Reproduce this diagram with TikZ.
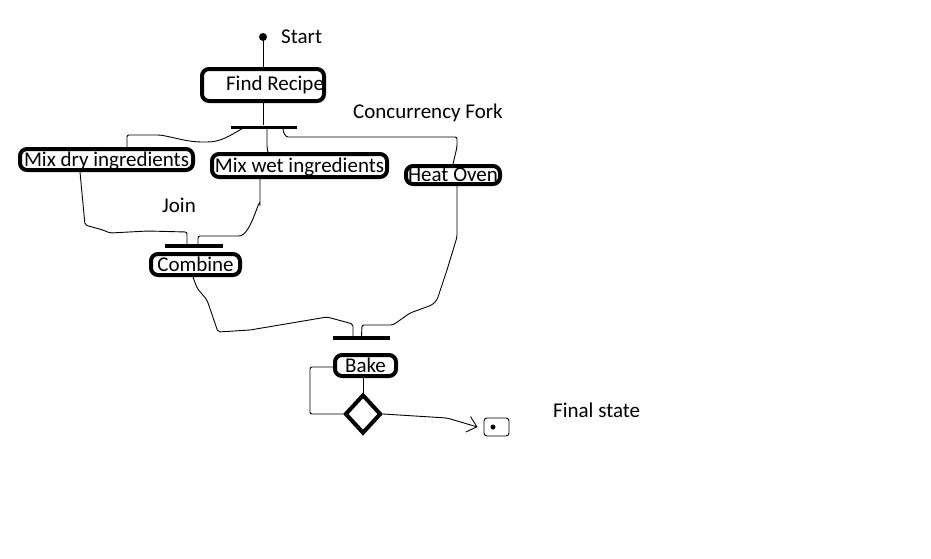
\documentclass[tikz,border=0pt]{standalone}
\usepackage{fontspec}
\setmainfont{Carlito}
\usetikzlibrary{shapes.geometric, arrows.meta}

\begin{document}
\begin{tikzpicture}[x=1pt, y=-1pt,
		actbox/.style={draw, line width=4pt, rounded corners=7pt, inner sep=0pt,
			text depth=0pt, font=\fontsize{21}{24}\selectfont},
		lbl/.style={anchor=west, inner sep=0pt, font=\fontsize{21}{24}\selectfont},
		syncbar/.style={fill=black, inner sep=0pt, minimum height=3pt},
		flow/.style={line width=0.9pt, rounded corners=2pt},
		endbox/.style={draw, line width=0.9pt, rounded corners=3pt, inner sep=0pt,
			minimum width=25pt, minimum height=18pt}]
		
		\useasboundingbox (0,0) rectangle (931,558);
		
		% start and first activity
		\node[circle, fill=black, inner sep=0pt, minimum size=8pt] (start) at (263,37) {};
		\node[lbl] (startlbl) at (281,37) {Start};
		\node[actbox, text width=122pt, align=flush right, text depth=4pt, minimum height=32pt] (recipe) at (263,85) {Find Recipe};
		
		% fork
		\node[syncbar, minimum width=66pt] (fork) at (264,127) {};
		\node[lbl] (forklbl) at (353,113) {Concurrency Fork};
		
		\node[actbox, minimum width=173pt, minimum height=21pt] (dry) at (106.5,159.5) {Mix dry ingredients};
		\node[actbox, minimum width=175pt, minimum height=23pt] (wet) at (299.5,165.5) {Mix wet ingredients};
		\node[actbox, minimum width=94pt, minimum height=18pt] (oven) at (453,175) {Heat Oven};
		
		% join
		\node[syncbar, minimum width=58pt, minimum height=4pt] (join) at (194,246) {};
		\node[lbl] (joinlbl) at (162,205) {Join};
		\node[actbox, minimum width=89pt, minimum height=21pt] (combine) at (195.5,264.5) {Combine};
		
		\node[syncbar, minimum width=57pt, minimum height=4pt] (join2) at (361.5,338) {};
		\node[actbox, minimum width=61pt, minimum height=21pt] (bake) at (365.5,365.5) {Bake};
		
		% decision and end
		\node[diamond, draw, line width=4pt, inner sep=0pt, minimum width=36pt, minimum height=39pt] (decide) at (363,414) {};
		\node[endbox] (final) at (496.5,427) {};
		\fill (493,427) circle (2.5pt);
		\node[lbl] (finallbl) at (553,410) {Final state};
		
		% connectors
		\draw[flow] (start.south) -- (recipe.north);
		\draw[flow] (recipe.south) -- (recipe.south |- fork.north);
		\draw[flow] ([xshift=-22pt]fork.south) to[out=-150, in=0] (205,142)
		to[out=180, in=-10] (160,135) -- (127,135) -- ([xshift=20.5pt]dry.north);
		\draw[flow] ([xshift=3pt]fork.south) -- (267,148) -- ([xshift=-31.5pt]wet.north);
		\draw[flow] ([xshift=19pt]fork.south) to[out=-90, in=180] (290,137)
		-- (457,137) -- (457,147) -- (oven.north);
		
		\draw[flow] ([xshift=-26.5pt]dry.south) -- (85,225) -- (103,230) -- (110,233)
		-- (148,231) -- (187,232) -- ([xshift=-7pt]join.north);
		\draw[flow] ([xshift=-39.5pt]wet.south) -- (260,207) to[out=90, in=0] (237,236)
		-- (198,236) -- ([xshift=4pt]join.north);
		
		\draw[flow] ([xshift=-2.5pt]combine.south) -- (197,288) -- (207,300) -- (218,332)
		-- (250,330) -- (327,317) -- (353,324) -- ([xshift=-8.5pt]join2.north);
		\draw[flow] ([xshift=4pt]oven.south) -- (457,237) -- (447,270) -- (437,300)
		-- (432,305) -- (410,313) -- (393,325) -- (362,325) -- (join2.north);
		
		\draw[flow] ([yshift=-1.5pt]bake.west) -- ++(-23,0) |- (decide.west);
		\draw[flow] (bake.south -| decide.north) -- (decide.north);
		\draw[flow, -{Straight Barb[length=9pt, width=16pt]}] (decide.east) -- (447,418)
		-- ([xshift=-6pt]final.west);
		
	\end{tikzpicture}
\end{document}
